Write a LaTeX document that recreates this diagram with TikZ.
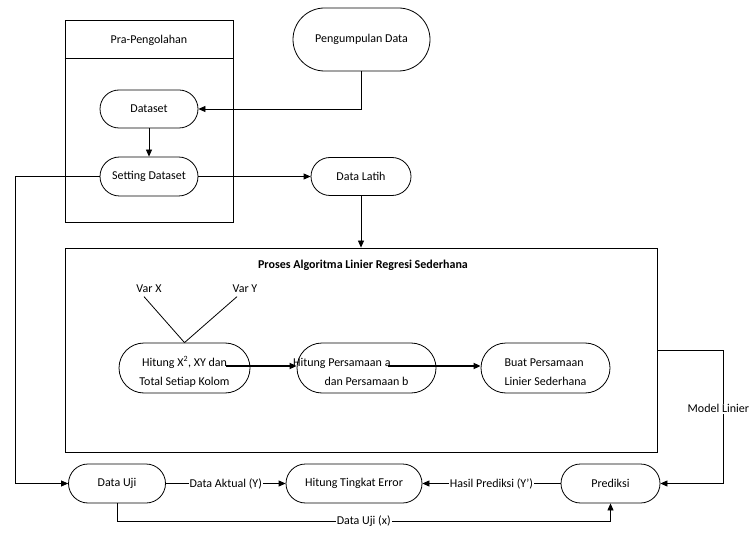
\documentclass[tikz,border=0pt]{standalone}
\usepackage{fontspec}
\setmainfont{Carlito}
\usetikzlibrary{shapes.misc,arrows.meta}
\tikzset{
    term/.style={draw, rounded rectangle, inner sep=2pt, align=center},
    box/.style={draw, rectangle, inner sep=0pt},
    arr/.style={-{Triangle[length=7pt,width=6pt]}},
    thk/.style={line width=1.6pt, -{Triangle[length=7pt,width=6pt]}},
    lbl/.style={fill=white, inner sep=1pt},
}
\newcommand{\upstrut}{\rule{0pt}{17pt}}

\begin{document}
\begin{tikzpicture}
    [x=1pt, y=-1pt, line width=0.8pt,
     font=\fontsize{12}{19}\selectfont]
    \useasboundingbox (0,0) rectangle (752,537);
    \node[box, minimum width=168pt, minimum height=202pt] (pra) at (149,121) {};
    \node (pratitle) at (149,40) {Pra-Pengolahan};
    \draw (pra.west |- 0,58) -- (pra.east |- 0,58);
    \node[term, minimum width=141pt, minimum height=63pt] (kumpul) at (361.5,39.5) {Pengumpulan Data};
    \node[term, minimum width=102pt, minimum height=38pt] (dataset) at (149,109) {Dataset};
    \node[term, minimum width=102pt, minimum height=39pt] (setting) at (149,176.5) {Setting Dataset};
    \node[term, minimum width=104pt, minimum height=38pt] (latih) at (361,176.5) {Data Latih};
    \node[box, minimum width=592pt, minimum height=204pt] (proses) at (361,350) {};
    \node[font=\fontsize{12}{19}\selectfont\bfseries] (prosestitle) at (363,265) {Proses Algoritma Linier Regresi Sederhana};
    \node (varx) at (149,289) {Var X};
    \node (vary) at (245,289) {Var Y};
    \node[term, minimum width=135pt, minimum height=50pt] (hitung) at (184.5,368) {\upstrut Hitung X\textsuperscript{2}, XY dan\\Total Setiap Kolom};
    \node[term, minimum width=143pt, minimum height=50pt] (persamaan) at (366.5,368) {\upstrut\makebox[48pt][r]{Hitung Persamaan a}\\dan Persamaan b};
    \node[term, minimum width=133pt, minimum height=50pt, align=left] (buat) at (545.5,368) {\upstrut Buat Persamaan\\Linier Sederhana};
    \node[term, minimum width=101pt, minimum height=39pt] (datauji) at (117,483.5) {Data Uji};
    \node[term, minimum width=140pt, minimum height=39pt] (error) at (354,483.5) {Hitung Tingkat Error};
    \node[term, minimum width=103pt, minimum height=39pt] (prediksi) at (610.5,483.5) {Prediksi};

    \draw[arr] (kumpul.south) |- (dataset.east);
    \draw[arr] (dataset.south) -- (setting.north);
    \draw[arr] (setting.east) -- (latih.west);
    \draw[arr] (latih.south) -- (latih.south |- proses.north);
    \draw[arr] (setting.west) -- ++(-84,0) |- (datauji.west);
    \draw ([xshift=-5pt]varx.south) -- (hitung.north);
    \draw ([xshift=-8pt]vary.south) -- (hitung.north);
    \draw[thk] ([xshift=-24pt,yshift=2pt]hitung.east) -- ([yshift=2pt]persamaan.west);
    \draw[thk] ([xshift=-48pt,yshift=2pt]persamaan.east) -- ([yshift=2pt]buat.west);
    \draw[arr] (datauji.east) -- node[lbl] {Data Aktual (Y)} (error.west);
    \draw[arr] (prediksi.west) -- node[lbl] {Hasil Prediksi (Y')} (error.east);
    \draw[arr] (datauji.south) -- ++(0,18) -| node[lbl, pos=0.25] {Data Uji (x)} (prediksi.south);
    \draw[arr] (proses.east) -- ++(66,0) |- node[lbl, pos=0.22, xshift=-5pt] {Model Linier} (prediksi.east);
\end{tikzpicture}
\end{document}
